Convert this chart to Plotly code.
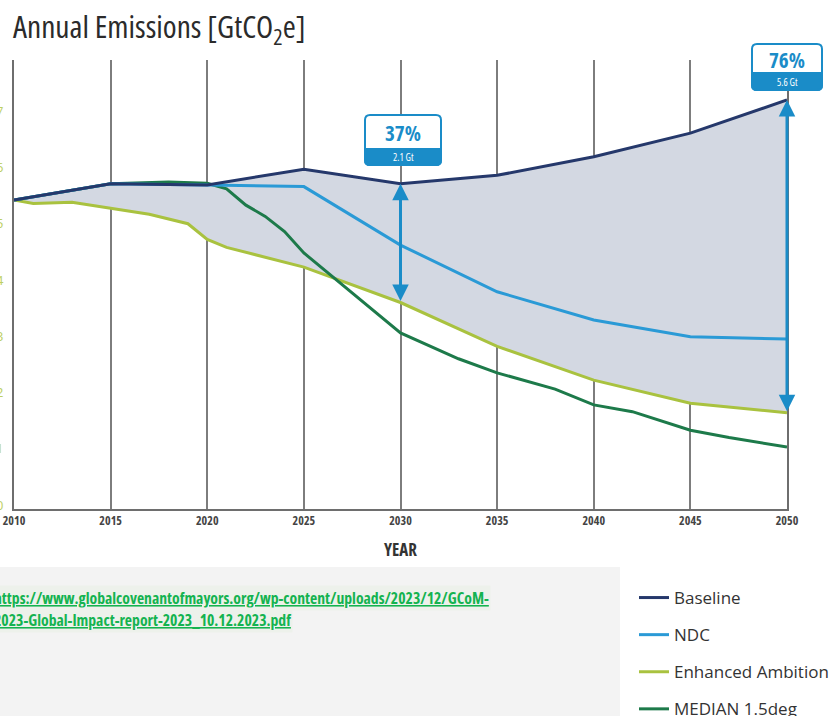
import plotly.graph_objects as go

# ---------------- data ----------------
baseline_years = [2010, 2015, 2020, 2025, 2030, 2035, 2040, 2045, 2050]
baseline_vals = [5.42, 5.71, 5.69, 5.97, 5.71, 5.86, 6.19, 6.61, 7.20]

ndc_years = [2010, 2015, 2020, 2025, 2030, 2035, 2040, 2045, 2050]
ndc_vals = [5.42, 5.71, 5.69, 5.66, 4.62, 3.79, 3.29, 2.99, 2.95]

enh_years = [2010, 2011, 2013, 2015, 2017, 2019, 2020, 2021, 2025, 2030, 2035, 2040, 2045, 2050]
enh_vals = [5.42, 5.36, 5.38, 5.28, 5.17, 5.00, 4.72, 4.58, 4.23, 3.60, 2.82, 2.22, 1.81, 1.64]

med_years = [2010, 2015, 2018, 2020, 2021, 2022, 2023, 2024, 2025, 2030, 2033, 2035, 2038, 2040, 2042, 2045, 2047, 2050]
med_vals = [5.42, 5.71, 5.74, 5.72, 5.62, 5.33, 5.13, 4.86, 4.48, 3.06, 2.60, 2.35, 2.06, 1.78, 1.66, 1.33, 1.20, 1.03]

x_ticks = [2010, 2015, 2020, 2025, 2030, 2035, 2040, 2045, 2050]
y_ticks = [0, 1, 2, 3, 4, 5, 6, 7, 8]

gap_labels = [("2030", "37%", "2.1 Gt"), ("2050", "76%", "5.6 Gt")]

url_line1 = "https://www.globalcovenantofmayors.org/wp-content/uploads/2023/12/GCoM-"
url_line2 = "2023-Global-Impact-report-2023_10.12.2023.pdf"

# ---------------- style ----------------
W, H = 829, 716
L, R, T, B = 14, 787, 60, 509  # plot area in px
FONT = "Open Sans, Roboto, sans-serif"

C_BASE = "#25386b"
C_NDC = "#2a9ad6"
C_ENH = "#a9c23f"
C_MED = "#1d7a4a"
C_FILL = "#d3d8e2"
C_BOX = "#1a8cc8"


def cond(s, pct="75%"):
    return f'<span style="font-stretch:{pct}">{s}</span>'


def pxx(px):
    return (px - L) / (R - L)


def pxy(py):
    return (B - py) / (B - T)


def rrect(x0, y0, x1, y1, r, top=True, bottom=True):
    rt = r if top else 0
    rb = r if bottom else 0
    pts = [f"M{pxx(x0 + rt)},{pxy(y0)}",
           f"L{pxx(x1 - rt)},{pxy(y0)}",
           f"Q{pxx(x1)},{pxy(y0)} {pxx(x1)},{pxy(y0 + rt)}",
           f"L{pxx(x1)},{pxy(y1 - rb)}",
           f"Q{pxx(x1)},{pxy(y1)} {pxx(x1 - rb)},{pxy(y1)}",
           f"L{pxx(x0 + rb)},{pxy(y1)}",
           f"Q{pxx(x0)},{pxy(y1)} {pxx(x0)},{pxy(y1 - rb)}",
           f"L{pxx(x0)},{pxy(y0 + rt)}",
           f"Q{pxx(x0)},{pxy(y0)} {pxx(x0 + rt)},{pxy(y0)}Z"]
    return " ".join(pts)


fig = go.Figure()

fig.add_trace(go.Scatter(
    x=baseline_years + enh_years[::-1],
    y=baseline_vals + enh_vals[::-1],
    fill="toself", fillcolor=C_FILL, mode="none",
    showlegend=False, hoverinfo="skip"))

fig.add_trace(go.Scatter(x=enh_years, y=enh_vals, mode="lines", name="Enhanced Ambition",
                         line=dict(color=C_ENH, width=3), legendrank=3, legendgroup="c"))
fig.add_trace(go.Scatter(x=med_years, y=med_vals, mode="lines", name="MEDIAN 1.5deg",
                         line=dict(color=C_MED, width=3), legendrank=4, legendgroup="d"))
fig.add_trace(go.Scatter(x=ndc_years, y=ndc_vals, mode="lines", name="NDC",
                         line=dict(color=C_NDC, width=3), legendrank=2, legendgroup="b"))
fig.add_trace(go.Scatter(x=baseline_years, y=baseline_vals, mode="lines", name="Baseline",
                         line=dict(color=C_BASE, width=3), legendrank=1, legendgroup="a"))

shapes = []
annotations = []

shapes.append(dict(type="rect", xref="paper", yref="paper", layer="below",
                   x0=pxx(-2), x1=pxx(620), y0=pxy(720), y1=pxy(567),
                   fillcolor="#f3f3f3", line=dict(width=0)))

for txt, py in ((url_line1, 598), (url_line2, 620)):
    annotations.append(dict(xref="paper", yref="paper", x=pxx(-8), y=pxy(py), xanchor="left",
                            yanchor="middle", showarrow=False,
                            text="<b><u>" + cond(txt) + "</u></b>",
                            font=dict(family=FONT, size=15.7, color="#14b350"),
                            bgcolor="#edf1eb", borderpad=1))

gap_years = [2030, 2050]
boxes_px = [(365, 115, 441, 165, 149), (752, 44, 822, 90, 73)]
for (yr_s, pct, gt), yr, (bx0, by0, bx1, by1, band) in zip(gap_labels, gap_years, boxes_px):
    top_v = baseline_vals[baseline_years.index(yr)]
    bot_v = enh_vals[enh_years.index(yr)]
    annotations.append(dict(x=yr, y=top_v, ax=yr, ay=bot_v, xref="x", yref="y",
                            axref="x", ayref="y", text="", showarrow=True,
                            arrowside="end+start", arrowhead=2, startarrowhead=2,
                            arrowsize=1.1, startarrowsize=1.1, arrowwidth=3,
                            arrowcolor=C_BOX, standoff=0, startstandoff=0))
    shapes.append(dict(type="path", xref="paper", yref="paper",
                       path=rrect(bx0, by0, bx1, by1, 5),
                       fillcolor="white", line=dict(color=C_BOX, width=2)))
    shapes.append(dict(type="path", xref="paper", yref="paper",
                       path=rrect(bx0, band, bx1, by1, 5, top=False),
                       fillcolor=C_BOX, line=dict(color=C_BOX, width=2)))
    annotations.append(dict(xref="paper", yref="paper", x=pxx((bx0 + bx1) / 2),
                            y=pxy((by0 + band) / 2 + 1), xanchor="center", yanchor="middle",
                            showarrow=False, text="<b>" + cond(pct) + "</b>",
                            font=dict(family=FONT, size=21, color=C_BOX)))
    annotations.append(dict(xref="paper", yref="paper", x=pxx((bx0 + bx1) / 2),
                            y=pxy((band + by1) / 2), xanchor="center", yanchor="middle",
                            showarrow=False, text=cond(gt),
                            font=dict(family=FONT, size=10, color="white")))

annotations.append(dict(xref="paper", yref="paper", x=pxx(11), y=pxy(28), xanchor="left",
                        yanchor="middle", showarrow=False,
                        text=cond("Annual Emissions [GtCO<sub>2</sub>e]"),
                        font=dict(family=FONT, size=31.5, color="#2b2b2b")))

fig.update_layout(
    width=W, height=H,
    template="none",
    paper_bgcolor="white", plot_bgcolor="white",
    margin=dict(l=L, r=W - R, t=T, b=H - B, pad=0, autoexpand=False),
    shapes=shapes, annotations=annotations,
    showlegend=True,
    legend=dict(x=pxx(634), y=pxy(580), xanchor="left", yanchor="top",
                font=dict(family=FONT, size=17, color="#333333"),
                bgcolor="rgba(0,0,0,0)", tracegroupgap=12, traceorder="grouped",
                itemclick=False),
    xaxis=dict(range=[2010, 2050], tickvals=x_ticks,
               ticktext=["<b>" + cond(str(v), "62.5%") + "</b>" for v in x_ticks],
               showgrid=True, gridcolor="#7d7d7d", gridwidth=1.5, zeroline=False,
               showline=True, linecolor="#6e6e6e", linewidth=2, ticks="",
               tickfont=dict(family=FONT, size=12, color="#444444"),
               ticklabeloverflow="allow",
               title=dict(text="<b>" + cond("YEAR", "62.5%") + "</b>", standoff=16,
                          font=dict(family=FONT, size=17, color="#333333")),
               automargin=False, fixedrange=True),
    yaxis=dict(range=[-0.07, 7.91], tickvals=y_ticks, showgrid=False, zeroline=False,
               showline=True, linecolor="#6e6e6e", linewidth=2, mirror=True, ticks="",
               tickfont=dict(family=FONT, size=13, color="#bccf62"),
               ticklabeloverflow="allow",
               ticklabelstandoff=6, automargin=False, fixedrange=True),
)

fig.write_html("out.html", config={"displayModeBar": False},
               post_script="document.body.style.margin='0px';")
